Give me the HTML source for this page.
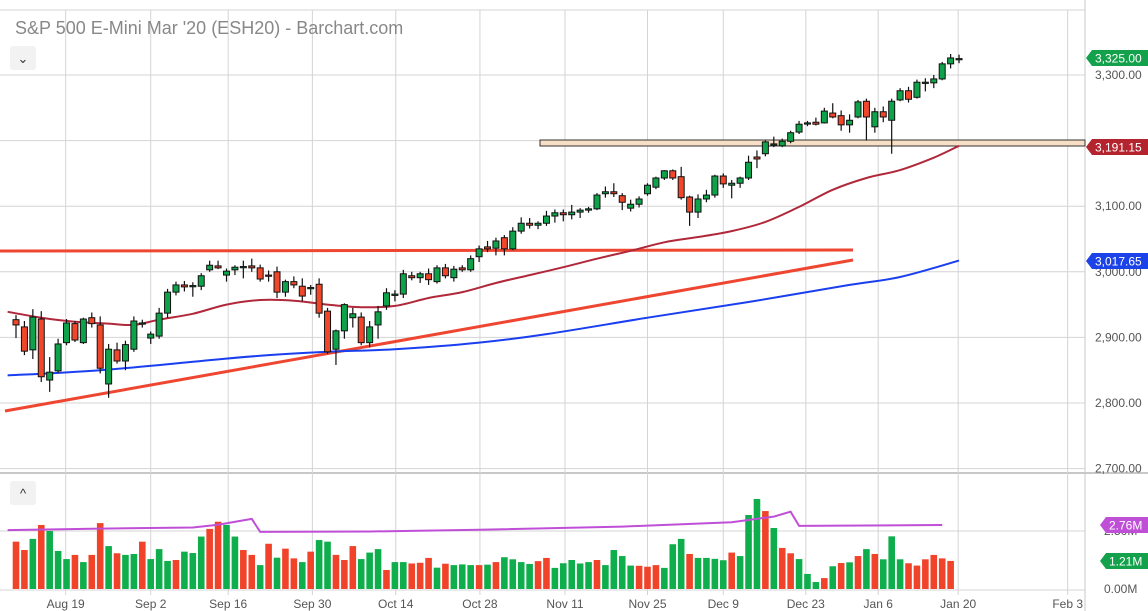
<!DOCTYPE html>
<html><head><meta charset="utf-8"><style>
body{margin:0;background:#fff;font-family:"Liberation Sans",sans-serif}
#wrap{position:relative;width:1148px;height:611px;overflow:hidden}
svg{position:absolute;left:0;top:0}
</style></head><body>
<div id="wrap">
<svg id="chart" width="1148" height="611"></svg>
</div>
<script>
const opens=[2927,2916,2881,2928,2835,2849,2892,2921,2892,2930,2919,2829,2881,2864,2882,2921,2899,2902,2937,2969,2980,2978,2978,3003,3009,2995,3003,3007,3009,3006,2995,3000,2969,2985,2978,2975,2981,2940,2882,2910,2930,2931,2892,2919,2948,2964,2966,2994,2991,2997,2985,3006,2991,3006,3003,3023,3038,3036,3052,3035,3062,3074,3071,3074,3085,3090,3087,3091,3094,3096,3119,3122,3116,3097,3103,3119,3129,3143,3154,3145,3114,3091,3111,3117,3146,3132,3135,3143,3175,3180,3194,3192,3199,3213,3226,3228,3227,3242,3238,3224,3236,3260,3221,3244,3231,3262,3276,3266,3288,3288,3294,3317,3325];
const highs=[2934,2925,2943,2940,2870,2898,2928,2925,2930,2938,2932,2890,2892,2895,2932,2927,2909,2945,2974,2985,2986,2984,2998,3017,3017,3005,3010,3017,3020,3011,3002,3008,2988,2993,2990,2980,2990,2945,2912,2952,2945,2938,2925,2948,2975,2972,3003,3000,3000,3005,3010,3012,3009,3010,3025,3040,3047,3052,3056,3068,3083,3082,3077,3093,3095,3095,3102,3097,3099,3120,3130,3135,3120,3110,3115,3135,3145,3155,3156,3160,3116,3118,3125,3148,3150,3140,3145,3177,3185,3200,3206,3203,3215,3230,3230,3235,3250,3257,3246,3240,3262,3264,3250,3252,3264,3280,3282,3293,3295,3300,3320,3332,3331];
const lows=[2899,2873,2867,2832,2817,2846,2888,2893,2890,2915,2845,2808,2860,2850,2878,2915,2890,2898,2930,2964,2970,2962,2972,3000,3004,2985,2995,2990,3000,2985,2985,2960,2962,2975,2955,2965,2930,2875,2858,2898,2915,2888,2885,2898,2942,2955,2960,2987,2983,2980,2982,2990,2985,3000,3000,3015,3030,3025,3025,3033,3058,3066,3065,3070,3075,3077,3080,3082,3090,3094,3113,3114,3094,3092,3098,3116,3126,3140,3140,3110,3070,3082,3106,3113,3128,3112,3128,3140,3158,3176,3190,3190,3196,3210,3222,3223,3226,3234,3215,3212,3234,3200,3212,3228,3180,3260,3258,3264,3275,3280,3292,3310,3318];
const closes=[2919,2879,2931,2840,2847,2890,2922,2896,2928,2921,2853,2882,2864,2889,2925,2922,2905,2937,2969,2980,2977,2979,2994,3010,3006,3001,3007,3008,3006,2989,2994,2969,2985,2980,2963,2976,2937,2878,2910,2950,2936,2892,2916,2939,2968,2966,2997,2991,2997,2988,3006,2994,3004,3003,3020,3035,3035,3047,3035,3062,3074,3071,3074,3085,3090,3087,3091,3094,3096,3117,3122,3119,3106,3103,3111,3132,3143,3154,3143,3113,3091,3111,3117,3146,3134,3135,3143,3167,3172,3198,3195,3199,3212,3225,3227,3225,3245,3236,3224,3231,3259,3236,3244,3236,3260,3276,3263,3289,3289,3294,3317,3326,3325];
const volumes=[2.04,1.68,2.16,2.76,2.50,1.64,1.29,1.47,1.16,1.47,2.84,1.85,1.54,1.47,1.51,2.04,1.29,1.72,1.21,1.25,1.61,1.55,2.26,2.59,2.90,2.76,2.26,1.68,1.47,1.03,1.95,1.35,1.74,1.32,1.16,1.61,2.11,2.04,1.47,1.25,1.85,1.29,1.57,1.72,0.82,1.16,1.16,1.10,1.13,1.34,0.92,1.09,1.03,1.06,1.03,1.03,1.05,1.16,1.37,1.28,1.16,1.08,1.20,1.34,0.91,1.11,1.25,1.10,1.16,1.25,1.03,1.68,1.42,1.01,1.00,0.96,1.03,0.91,1.93,2.16,1.51,1.34,1.34,1.30,1.24,1.57,1.42,3.19,3.88,3.36,2.63,1.77,1.54,1.29,0.65,0.30,0.47,0.98,1.12,1.15,1.42,1.72,1.51,1.28,2.27,1.28,1.11,1.01,1.28,1.47,1.32,1.21];
const volColors="rrgrgggrgrrgrggrgggrgggrrggrrgrgrrgrggrrrgggrggrrrgrgggrgrggggrrgggggrggggrrrgggrggggrgggrgrrgggrgrgrgrggg".split("");
const ma50Idx=[-1,3,7,11,14,17,21,25,29,33,37,41,45,49,53,57,61,65,69,73,77,81,85,89,93,97,101,105,109,112];
const ma50Val=[2939,2930,2924,2921,2919,2927,2936,2950,2957,2956,2950,2946,2948,2960,2969,2983,2995,3007,3020,3032,3045,3053,3062,3076,3099,3125,3143,3155,3174,3192];
const ma200Idx=[-1,10,22,29,37,45,55,63,75,87,99,105,112];
const ma200Val=[2842,2850,2864,2872,2878,2882,2892,2905,2930,2954,2980,2992,3017];
const volMaIdx=[-1,9,21,24,28,29,42,55,72,85,90,92,93,110];
const volMaVal=[2.54,2.60,2.65,2.77,3.02,2.46,2.48,2.55,2.69,2.88,3.12,3.33,2.72,2.76];
const priceTicks=[3300,3200,3100,3000,2900,2800,2700];
const dateLabels=["Aug 19","Sep 2","Sep 16","Sep 30","Oct 14","Oct 28","Nov 11","Nov 25","Dec 9","Dec 23","Jan 6","Jan 20","Feb 3"];
const dateIdx=[5.9,16,25.2,35.2,45.1,55.1,65.2,75,84,93.8,102.4,111.9,124.9];

const NS="http://www.w3.org/2000/svg";
const svg=document.getElementById("chart");
const X=i=>16+i*8.42;
const Y=p=>75+(3300-p)*0.656;
const V=v=>589-v*23.2;
function mk(tag,at,parent){const e=document.createElementNS(NS,tag);for(const k in at)e.setAttribute(k,at[k]);(parent||svg).appendChild(e);return e;}

const grid=mk("g",{});


priceTicks.forEach(p=>{mk("line",{x1:0,x2:1085,y1:Y(p),y2:Y(p),stroke:"#d4d4d4","stroke-width":1},grid);});
mk("line",{x1:0,x2:1085,y1:V(2.5),y2:V(2.5),stroke:"#d4d4d4"},grid);
mk("line",{x1:0,x2:1148,y1:473,y2:473,stroke:"#c8c8c8","stroke-width":2},grid);
mk("line",{x1:0,x2:1085,y1:590,y2:590,stroke:"#d4d4d4"},grid);
mk("line",{x1:0,x2:1085,y1:10,y2:10,stroke:"#d4d4d4"},grid);
dateIdx.forEach(d=>{mk("line",{x1:X(d),x2:X(d),y1:10,y2:595,stroke:"#d4d4d4"},grid);});
mk("line",{x1:1085,x2:1085,y1:0,y2:611,stroke:"#c8c8c8"},grid);

const zone=mk("rect",{x:540,y:140,width:545,height:6,fill:"#f6dfc4",stroke:"#333","stroke-width":1});



const h=mk("line",{x1:0,y1:251,x2:853,y2:250,stroke:"#ee4630","stroke-width":3});


const d=mk("line",{x1:5,y1:411,x2:853,y2:260,stroke:"#ee4630","stroke-width":3});



function pathFrom(idx,val,fy){return idx.map((i,k)=>(k?"L":"M")+X(i).toFixed(1)+","+fy(val[k]).toFixed(1)).join(" ");}
function smoothFrom(idx,val,fy){
  const p=idx.map((i,k)=>[X(i),fy(val[k])]);
  let s="M"+p[0][0].toFixed(1)+","+p[0][1].toFixed(1);
  for(let k=0;k<p.length-1;k++){
    const a=p[k-1]||p[k],b=p[k],c=p[k+1],e=p[k+2]||c;
    const c1=[b[0]+(c[0]-a[0])/6,b[1]+(c[1]-a[1])/6],c2=[c[0]-(e[0]-b[0])/6,c[1]-(e[1]-b[1])/6];
    s+=` C${c1[0].toFixed(1)},${c1[1].toFixed(1)} ${c2[0].toFixed(1)},${c2[1].toFixed(1)} ${c[0].toFixed(1)},${c[1].toFixed(1)}`;
  }
  return s;
}
const ma200=mk("path",{d:smoothFrom(ma200Idx,ma200Val,Y),fill:"none",stroke:"#1a3ff0","stroke-width":2});


const ma50=mk("path",{d:smoothFrom(ma50Idx,ma50Val,Y),fill:"none",stroke:"#b0283a","stroke-width":2});



const cg=mk("g",{});


opens.forEach((o,i)=>{
  const c=closes[i],x=X(i);
  const g=mk("g",{},cg);
  
  
  mk("line",{x1:x,x2:x,y1:Y(highs[i]),y2:Y(lows[i]),stroke:"#111","stroke-width":1.2},g);
  const top=Y(Math.max(o,c)),bot=Y(Math.min(o,c));
  mk("rect",{x:x-3,y:top,width:6,height:Math.max(bot-top,1.2),fill:c>=o?"#0ea34a":"#f0472b",stroke:"#111","stroke-width":1},g);
});

const vg=mk("g",{});


volumes.forEach((v,i)=>{
  const b=mk("rect",{x:X(i)-3.3,y:V(v),width:6.6,height:589-V(v),fill:volColors[i]==="g"?"#0fae4c":"#f0432a"},vg);
  
  
});
const vma=mk("path",{d:pathFrom(volMaIdx,volMaVal,V),fill:"none",stroke:"#c04fd8","stroke-width":2});



const ax=mk("g",{"font-size":12,fill:"#555","font-family":"Liberation Sans, sans-serif"});


priceTicks.forEach(p=>{if(p===3200)return;const t=mk("text",{x:1095,y:Y(p)+4},ax);t.textContent=p.toLocaleString("en-US")+".00";});
[["2.50M",V(2.5)],["0.00M",V(0)]].forEach(a=>{const t=mk("text",{x:1104,y:a[1]+4},ax);t.textContent=a[0];});
const dx=mk("g",{"font-size":12,fill:"#555","text-anchor":"middle","font-family":"Liberation Sans, sans-serif"});


dateLabels.forEach((s,k)=>{const t=mk("text",{x:X(dateIdx[k]),y:608},dx);t.textContent=s;});

function badge(txt,y,col,x,w,name){
  const g=mk("g",{});
  
  
  mk("path",{d:`M${x-6},${y} L${x},${y-8} L${x+w},${y-8} L${x+w},${y+8} L${x},${y+8} Z`,fill:col},g);
  const t=mk("text",{x:x+3,y:y+4.5,"font-size":12,fill:"#fff","font-family":"Liberation Sans, sans-serif"},g);t.textContent=txt;
}
badge("3,325.00",58,"#13a24b",1092,56,"last-price-label");
badge("3,191.15",147,"#b3242e",1092,56,"ma-50-label");
badge("3,017.65",261,"#1b43e8",1092,56,"ma-200-label");
badge("2.76M",525,"#c04fd8",1106,42,"volume-ma-label");
badge("1.21M",561,"#13a24b",1106,42,"volume-label");

const tt=mk("text",{x:15,y:34,"font-size":18,fill:"#888","font-family":"Liberation Sans, sans-serif"});
tt.textContent="S&P 500 E-Mini Mar '20 (ESH20) - Barchart.com";


function btn(y,glyph,name){
  const g=mk("g",{});
  
  
  mk("rect",{x:10,y:y,width:26,height:24,rx:3,fill:"#f2f2f2"},g);
  const t=mk("text",{x:23,y:y+17,"font-size":13,"text-anchor":"middle",fill:"#333"},g);t.textContent=glyph;
}
btn(46,"⌄","collapse-price-button");
btn(481,"^","collapse-volume-button");
</script>
</body></html>
